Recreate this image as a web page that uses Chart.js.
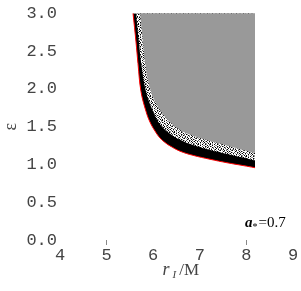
<!DOCTYPE html>
<html>
<head>
<meta charset="utf-8">
<script src="https://cdn.jsdelivr.net/npm/chart.js@4/dist/chart.umd.min.js"></script>
<style>
    html, body { margin: 0; padding: 0; background: #fff; }
    #grafico { display: block; }
</style>
</head>
<body>
<div style="width:301px;height:291px;">
    <canvas id="grafico" width="301" height="291"></canvas>
</div>
<script>
// borde exterior (linea roja + banda negra)
var rojoX = [5.567, 5.631, 5.674, 5.738, 5.845, 5.931, 6.039, 6.146, 6.275, 6.361, 6.575, 6.854, 7.219, 7.584, 7.927, 8.185];
var rojoY = [3.000, 2.620, 2.332, 1.965, 1.703, 1.560, 1.441, 1.350, 1.280, 1.245, 1.175, 1.120, 1.068, 1.022, 0.985, 0.956];

// borde interior de la banda negra (empieza el moteado)
var negroX = [5.631, 5.695, 5.738, 5.845, 5.996, 6.146, 6.361, 6.575, 6.854, 7.219, 7.584, 7.927, 8.185];
var negroY = [3.000, 2.620, 2.358, 1.965, 1.703, 1.530, 1.405, 1.325, 1.255, 1.190, 1.138, 1.090, 1.050];

// borde de la region gris
var grisX = [5.717, 5.781, 5.824, 5.953, 6.167, 6.361, 6.575, 6.854, 7.219, 7.584, 7.927, 8.185];
var grisY = [3.000, 2.620, 2.358, 1.965, 1.703, 1.560, 1.455, 1.380, 1.310, 1.250, 1.190, 1.150];

var ticksX = [4, 5, 6, 7, 8, 9];
var ticksY = [0, 0.5, 1, 1.5, 2, 2.5, 3];
var marcasX = [5, 8];

function puntos(xs, ys)
{
    return xs.map(function (x, i) { return {x: x, y: ys[i]}; });
}

function crearPatron()
{
    var filas = [
        "wkgwwdkwgwkw",
        "gwwkwgwwkwwg",
        "wkgwdwkgwwdw",
        "wdwkgwwwkgwk",
        "kwgwwkwgwdww",
        "wwkwgdwkwwgk",
        "gwwdkwgwkwdw",
        "wkgwwwwkgwwk",
        "dwwkgwdwwkgw",
        "wgkwwkwgwdwk",
        "kwwdwgwwkwgw",
        "wdgwkwkwgwwd"
    ];
    var colores = {w: "#ffffff", k: "#000000", g: "#999999", d: "#555555"};
    var c = document.createElement("canvas");
    c.width = 12;
    c.height = 12;
    var cx = c.getContext("2d");
    filas.forEach(function (fila, j) {
        for (var i = 0; i < fila.length; i++) {
            cx.fillStyle = colores[fila[i]];
            cx.fillRect(i, j, 1, 1);
        }
    });
    return cx.createPattern(c, "repeat");
}

var textos = {
    id: "textos",
    afterDraw: function (chart) {
        var ctx = chart.ctx;
        var xs = chart.scales.x;
        var ys = chart.scales.y;
        ctx.save();
        ctx.textBaseline = "alphabetic";
        ctx.textAlign = "left";

        // a*=0.7
        var ax = xs.getPixelForValue(7.97);
        var ay = ys.getPixelForValue(0.17);
        ctx.fillStyle = "#000";
        ctx.font = 'italic bold 15px "Liberation Serif"';
        ctx.fillText("a", ax, ay);
        ax += ctx.measureText("a").width;
        ctx.font = '10px "Liberation Serif"';
        ctx.fillText("*", ax, ay + 3);
        ax += ctx.measureText("*").width + 1;
        ctx.font = '15px "Liberation Serif"';
        ctx.fillText("=0.7", ax, ay);

        // titulo eje x: r_I/M
        var tx = xs.getPixelForValue(6.2);
        var ty = chart.chartArea.bottom + 35;
        ctx.fillStyle = "#444";
        ctx.font = 'italic 18px "Liberation Serif"';
        ctx.fillText("r", tx, ty);
        tx += ctx.measureText("r").width + 3;
        ctx.font = 'italic 11px "Liberation Serif"';
        ctx.fillText("I", tx, ty + 3);
        tx += ctx.measureText("I").width + 3;
        ctx.font = '17px "Liberation Serif"';
        ctx.fillText("/M", tx, ty);
        ctx.restore();
    }
};

var fuenteTicks = {family: '"Liberation Mono", "Courier New", monospace', size: 17};

new Chart(document.getElementById("grafico"), {
    type: "line",
    data: {
        datasets: [
            {
                data: puntos(grisX, grisY),
                fill: "end",
                backgroundColor: "#999999",
                borderWidth: 0,
                pointRadius: 0,
                tension: 0.4,
                order: 1
            },
            {
                data: puntos(negroX, negroY),
                fill: "end",
                backgroundColor: crearPatron(),
                borderWidth: 0,
                pointRadius: 0,
                tension: 0.4,
                order: 2
            },
            {
                data: puntos(rojoX, rojoY),
                fill: "end",
                backgroundColor: "#000000",
                borderColor: "#ff0000",
                borderWidth: 1,
                pointRadius: 0,
                tension: 0.4,
                order: 3
            }
        ]
    },
    options: {
        responsive: false,
        animation: false,
        events: [],
        layout: {padding: {top: 11, right: 8, left: 0, bottom: 0}},
        plugins: {
            legend: {display: false},
            tooltip: {enabled: false}
        },
        scales: {
            x: {
                type: "linear",
                min: 4,
                max: 9,
                afterBuildTicks: function (scale) {
                    scale.ticks = ticksX.map(function (v) { return {value: v}; });
                },
                afterFit: function (scale) { scale.height = 51; },
                border: {display: false},
                grid: {
                    drawOnChartArea: false,
                    drawTicks: true,
                    tickLength: 5,
                    color: function (c) {
                        return c.tick && marcasX.indexOf(c.tick.value) >= 0 ? "#888" : "rgba(0,0,0,0)";
                    }
                },
                ticks: {
                    font: fuenteTicks,
                    color: "#444",
                    padding: 0,
                    maxRotation: 0,
                    callback: function (v) { return String(v); }
                }
            },
            y: {
                min: 0,
                max: 3,
                afterBuildTicks: function (scale) {
                    scale.ticks = ticksY.map(function (v) { return {value: v}; });
                },
                afterFit: function (scale) { scale.width = 60; },
                border: {display: false},
                grid: {display: false, drawTicks: false},
                title: {
                    display: true,
                    text: "ε",
                    color: "#444",
                    font: {family: '"Liberation Serif"', size: 18},
                    padding: {top: 0, bottom: 0}
                },
                ticks: {
                    font: fuenteTicks,
                    color: "#444",
                    padding: 3,
                    callback: function (v) { return v.toFixed(1); }
                }
            }
        }
    },
    plugins: [textos]
});
</script>
</body>
</html>
